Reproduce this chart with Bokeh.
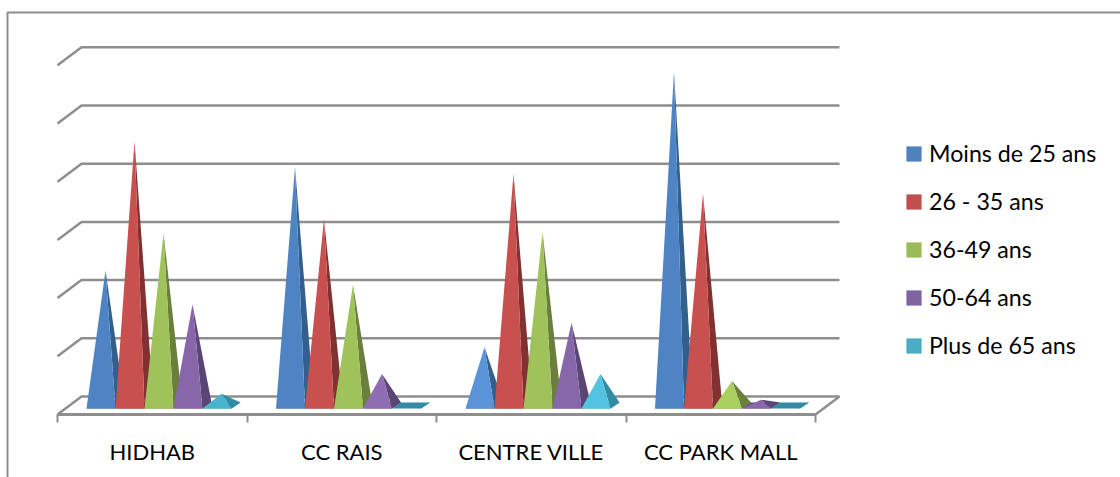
from bokeh.plotting import figure
from bokeh.models import BoxAnnotation, FixedTicker, Legend, LegendItem, LinearAxis, Range1d
from bokeh.embed import file_html
from bokeh.resources import INLINE

# Share of visitors per age band (percent) at each shopping site
sites = ["HIDHAB", "CC RAIS", "CENTRE VILLE", "CC PARK MALL"]
age_bands = ["Moins de 25 ans", "26 - 35 ans", "36-49 ans", "50-64 ans", "Plus de 65 ans"]
moins_25 = [11.6, 20.5, 5.0, 28.7]
de_26_35 = [22.7, 16.0, 19.9, 18.2]
de_36_49 = [14.8, 10.4, 14.9, 2.1]
de_50_64 = [8.7, 2.7, 7.1, 0.5]
plus_65 = [1.0, 0.0, 2.7, 0.0]
series = [moins_25, de_26_35, de_36_49, de_50_64, plus_65]
grid_values = [0, 5, 10, 15, 20, 25, 30]

legend_colors = ["#4f81bd", "#c0504d", "#9bbb59", "#8064a2", "#4bacc6"]
front_colors = ["#4f84c4", "#c8504e", "#a0c25b", "#8767a9", "#48b3cd"]
bright_colors = ["#5a93d8", "#c8504e", "#a9d05f", "#8f6db3", "#52c3e0"]
side_colors = ["#335f8d", "#813230", "#697f3b", "#5a4675", "#338ba3"]
GREY = "#8e8e8e"

# Page layout, in pixels
WIDTH, HEIGHT = 1120, 477
X0_PX, CAT_PX = 57, 189.5          # first tick and category pitch
BASE_PX, UNIT_PX = 405, 58.2 / 5   # bar mid-depth baseline and pixels per percent
FLOOR_FRONT_PX = 414

# Oblique projection: depth of the floor and depth of one pyramid
FLOOR_DX, FLOOR_DY = 24 / CAT_PX, 18 / UNIT_PX
BAR_DX, BAR_DY = 9 / CAT_PX, 6 / UNIT_PX
BAR_W = 29 / CAT_PX
BAR_START = 29 / CAT_PX

p = figure(
    width=WIDTH, height=HEIGHT, output_backend="svg", toolbar_location=None,
    min_border=0, min_border_left=0, min_border_right=0, min_border_top=0, min_border_bottom=0,
    x_range=Range1d(-X0_PX / CAT_PX, (WIDTH - X0_PX) / CAT_PX),
    y_range=Range1d((BASE_PX - HEIGHT) / UNIT_PX, BASE_PX / UNIT_PX),
    x_axis_location=None, y_axis_location=None,
    background_fill_color="white", border_fill_color="white", outline_line_color=None,
)
p.grid.visible = False

# Chart-area border; its right and bottom sides run off the page
p.add_layout(BoxAnnotation(
    left=7, right=WIDTH + 10, top=12, bottom=HEIGHT + 10,
    left_units="canvas", right_units="canvas", top_units="canvas", bottom_units="canvas",
    fill_color=None, line_color=GREY, line_alpha=1, line_width=2, level="underlay"))

# Back wall gridlines with their slanted returns on the side wall
n = len(sites)
floor_back = FLOOR_DY / 2
wall_xs, wall_ys = [], []
for g in grid_values:
    back = g + floor_back
    wall_xs.append([0, FLOOR_DX, n + FLOOR_DX])
    wall_ys.append([back - FLOOR_DY, back, back])
p.multi_line(wall_xs, wall_ys, line_color=GREY, line_width=2.5)
p.line([n, n + FLOOR_DX], [floor_back - FLOOR_DY, floor_back], line_color=GREY, line_width=2.5)

# Pyramids, one patch set per age band so the bands overlap from left to right
legend_items = []
for s, (name, values) in enumerate(zip(age_bands, series)):
    base_xs, base_ys, side_xs, side_ys, front_xs, front_ys, fills = [], [], [], [], [], [], []
    for c, v in enumerate(values):
        x0 = c + BAR_START + s * BAR_W
        x1 = x0 + BAR_W
        yf = -BAR_DY / 2
        yb = BAR_DY / 2
        ax = (x0 + x1) / 2 + BAR_DX / 2
        base_xs.append([x0, x0 + BAR_DX, x1 + BAR_DX, x1])
        base_ys.append([yf, yb, yb, yf])
        side_xs.append([x1, x1 + BAR_DX, ax])
        side_ys.append([yf, yb, v])
        if v > 0:
            front_xs.append([x0, x1, ax])
            front_ys.append([yf, yf, v])
            # Low pyramids catch more of the light
            fills.append(bright_colors[s] if 2 <= v < 6 else front_colors[s])
    p.patches(base_xs, base_ys, fill_color=side_colors[s], line_color=None)
    p.patches(side_xs, side_ys, fill_color=side_colors[s], line_color=None)
    p.patches(front_xs, front_ys, fill_color=fills, line_color=None)
    swatch = p.patches([[]], [[]], fill_color=legend_colors[s], line_color=None)
    legend_items.append(LegendItem(label=name, renderers=[swatch]))

# Category axis: labels centred on the sites, ticks between them
axis = LinearAxis(
    fixed_location=(BASE_PX - FLOOR_FRONT_PX) / UNIT_PX,
    ticker=FixedTicker(ticks=[i + 0.5 for i in range(n)], minor_ticks=list(range(n + 1))),
    major_label_overrides={i + 0.5: sites[i] for i in range(n)},
    bounds=(0, n),
    axis_line_color=GREY, axis_line_width=3,
    major_tick_line_color=None, major_tick_out=0, major_tick_in=0,
    minor_tick_line_color=GREY, minor_tick_line_width=2, minor_tick_out=8, minor_tick_in=0,
    major_label_text_font="Lato", major_label_text_font_size="22px",
    major_label_text_color="#000000", major_label_standoff=15,
)
p.add_layout(axis, "below")

legend = Legend(
    items=legend_items, location=(904, HEIGHT - 359),
    orientation="vertical", background_fill_alpha=0, border_line_color=None,
    glyph_width=19, glyph_height=19, label_standoff=6, spacing=20,
    label_height=22, padding=0, margin=0,
    label_text_font="Lato", label_text_font_size="23.2px", label_text_color="#000000",
)
p.add_layout(legend, "center")

open("out.html", "w").write(file_html(p, INLINE))
